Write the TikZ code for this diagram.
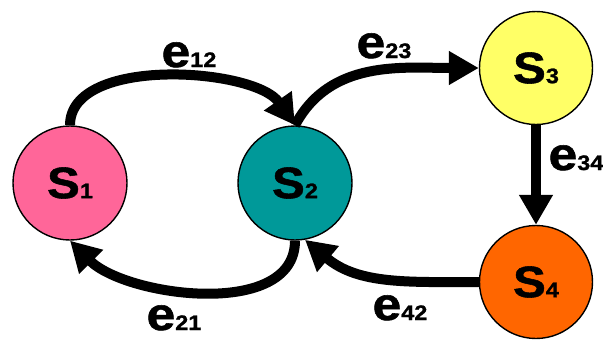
\documentclass[tikz,border=0pt]{standalone}
\usepackage{fontspec}
\setmainfont{Liberation Sans}
\newfontfamily\lblfont[FakeStretch=1.12,FakeBold=1.2]{Liberation Sans Bold}
\usetikzlibrary{arrows.meta}
\definecolor{pinkS}{HTML}{FF6699}
\definecolor{tealS}{HTML}{009999}
\definecolor{yellowS}{HTML}{FFFF66}
\definecolor{orangeS}{HTML}{FF6600}
\newcommand\lblx[2]{{\fontsize{44}{44}\selectfont #1}{\fontsize{21}{21}\selectfont #2}}
\newcommand\lble[2]{{\fontsize{46}{46}\selectfont #1}{\fontsize{21}{21}\selectfont #2}}
\begin{document}
\begin{tikzpicture}[x=1pt,y=-1pt,
  state/.style={circle, draw=black, line width=1.4pt, minimum size=114pt, inner sep=0pt, font=\lblfont},
  edgeline/.style={line width=10pt, -{Triangle[length=30pt,width=32pt]}},
  lbl/.style={anchor=base, inner sep=0pt, font=\lblfont}]
\useasboundingbox (0,0) rectangle (603,340);
\node[state, fill=pinkS] (s1) at (70,183) {\lblx{S}{1}};
\node[state, fill=tealS] (s2) at (295,183) {\lblx{S}{2}};
\node[state, fill=yellowS, minimum size=113pt] (s3) at (536,68) {\lblx{S}{3}};
\node[state, fill=orangeS, minimum size=113pt] (s4) at (536,282) {\lblx{S}{4}};
\draw[edgeline] (s1.north) to[out=90,in=125,looseness=0.8] (s2.north);
\draw[edgeline] (s2.north) to[out=62,in=180] (s3.west);
\draw[edgeline] (s3.south) -- (s4.north);
\draw[edgeline] (s4.west) to[out=180,in=-40] (s2.-80);
\draw[edgeline] (s2.south) to[out=-90,in=-45,looseness=0.9] (s1.south);
\node[lbl] (l12) at (189,67) {\lble{e}{12}};
\node[lbl] (l23) at (384,58) {\lble{e}{23}};
\node[lbl] (l34) at (576,170) {\lble{e}{34}};
\node[lbl] (l42) at (400,320) {\lble{e}{42}};
\node[lbl] (l21) at (174,330) {\lble{e}{21}};
\end{tikzpicture}
\end{document}
